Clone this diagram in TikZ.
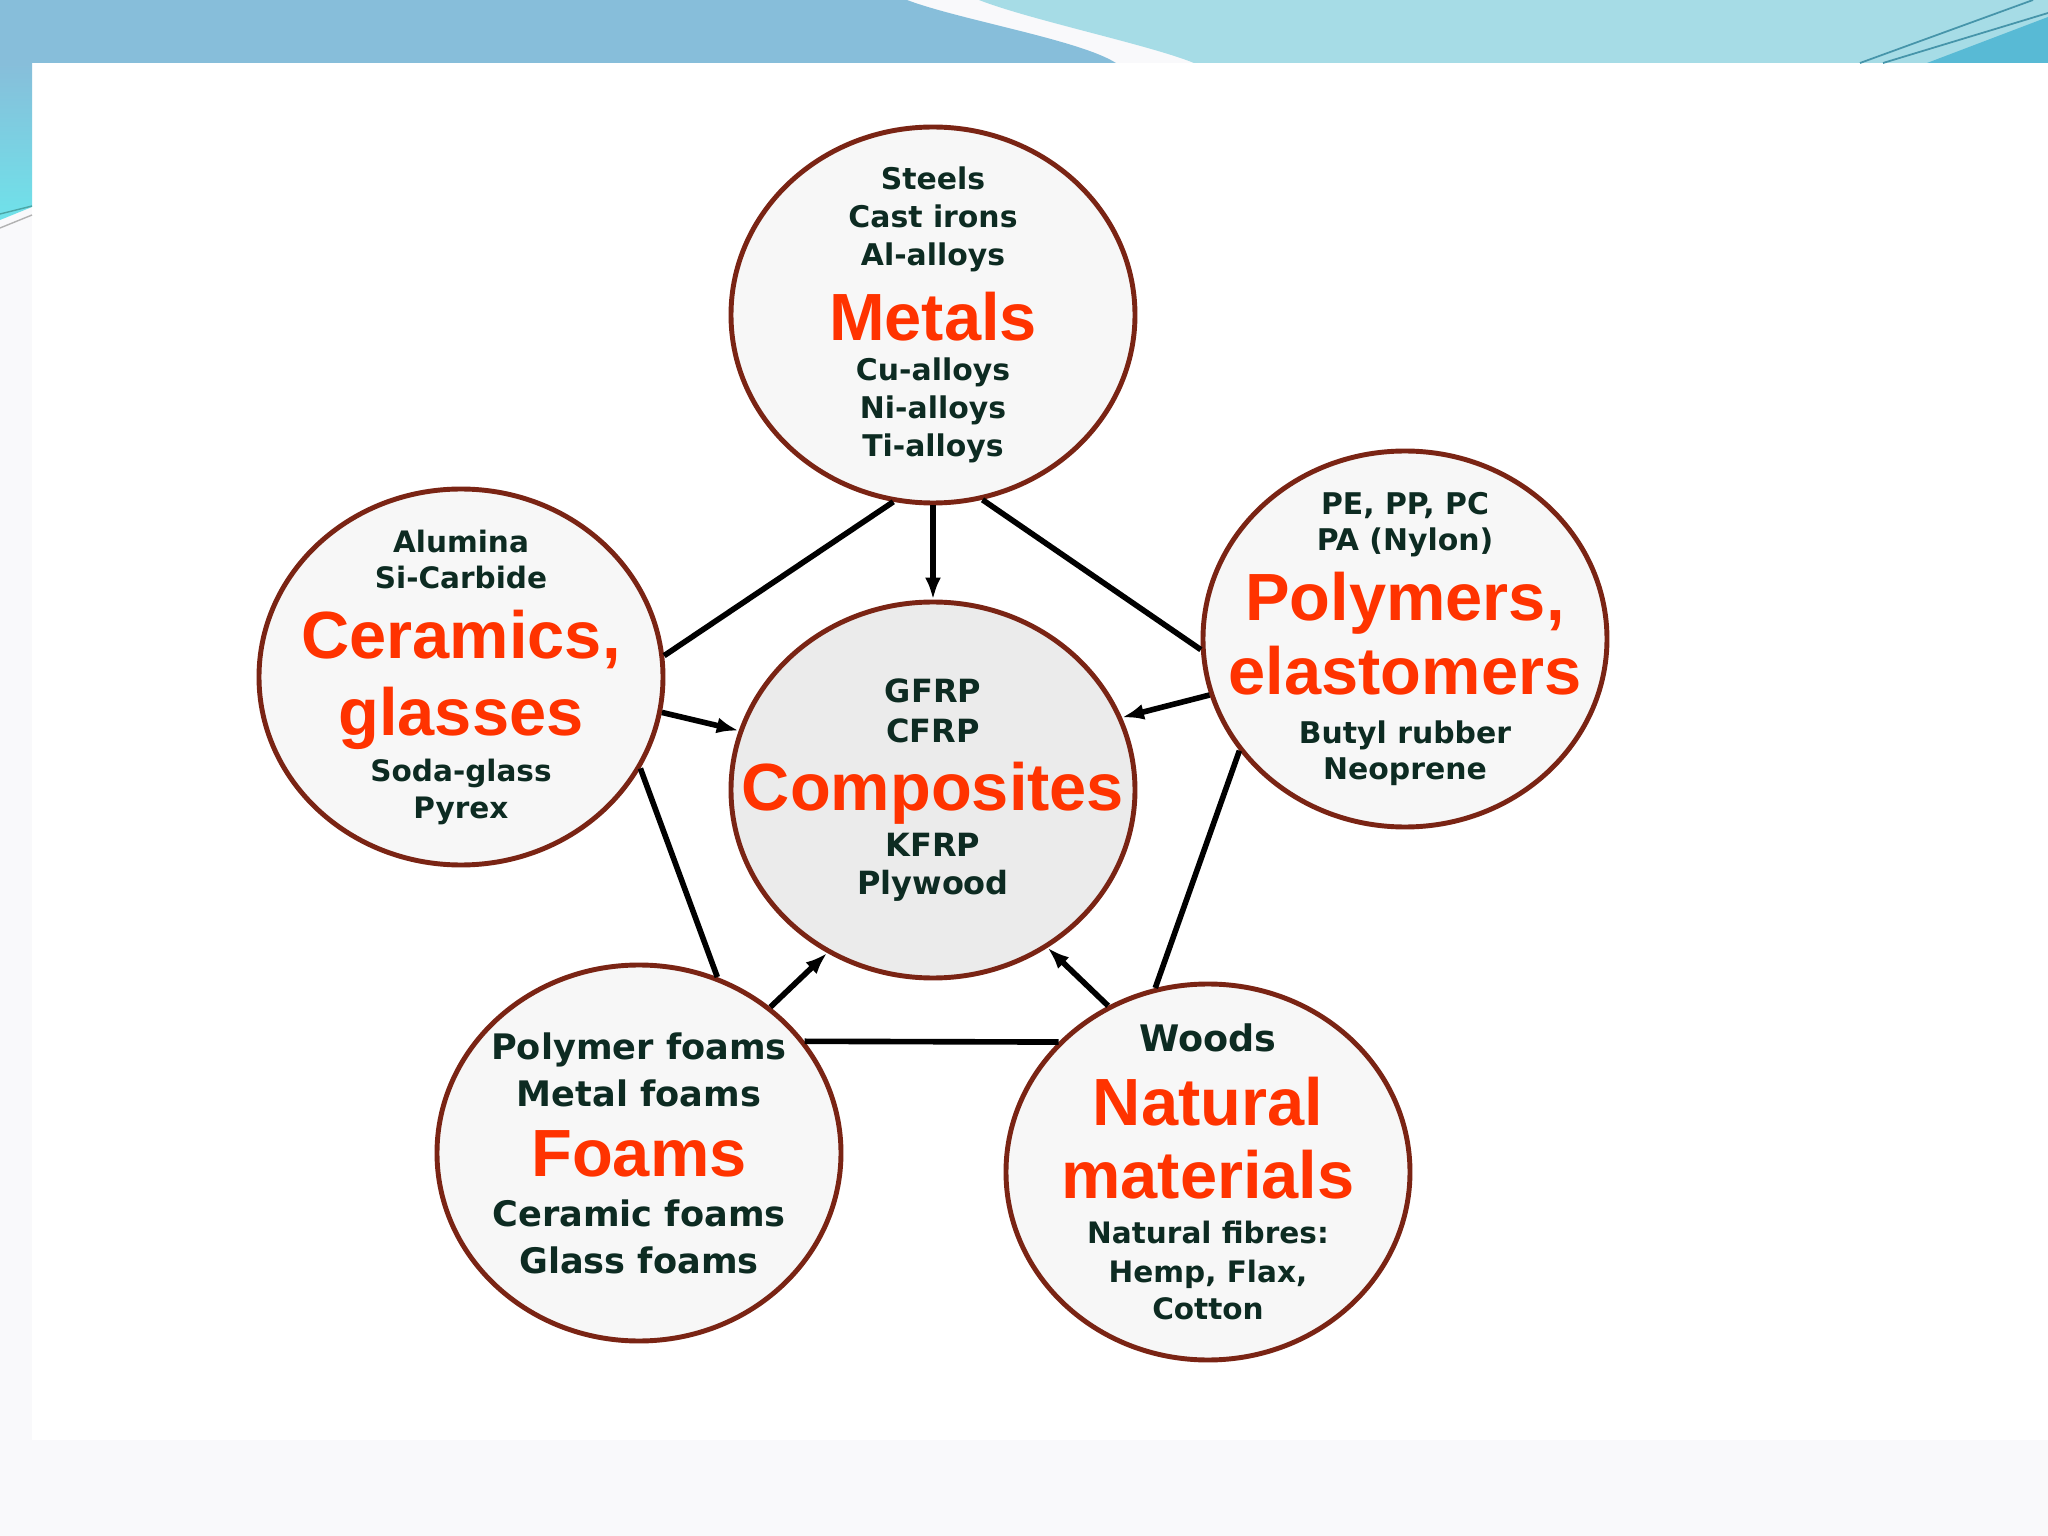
\documentclass[tikz,border=0pt]{standalone}
\usepackage{fontspec}
\usetikzlibrary{shapes.geometric,arrows.meta}
\newfontfamily\itemfont{DejaVu Sans}
\newfontfamily\titlefont{Liberation Sans}
\definecolor{rimbrown}{HTML}{7A2414}
\definecolor{discfill}{HTML}{F7F7F7}
\definecolor{corefill}{HTML}{EBEBEB}
\definecolor{itemgreen}{HTML}{0D2B22}
\definecolor{titlered}{HTML}{FF3300}
\definecolor{bandblue}{HTML}{87BEDA}
\definecolor{bandcyan}{HTML}{A6DCE6}
\definecolor{stripcyan}{HTML}{6FE2EA}
\definecolor{wedgeblue}{HTML}{58BAD5}
\definecolor{paper}{HTML}{F9F9FB}
\newcommand{\mattitle}[1]{{\titlefont\bfseries\fontsize{19}{22}\selectfont\color{titlered}#1}}

\begin{document}
\begin{tikzpicture}[
    matcircle/.style={ellipse,draw=rimbrown,line width=1.4pt,fill=discfill,minimum width=4.04cm,minimum height=3.76cm,inner sep=0pt},
    listfont/.style 2 args={font={\itemfont\bfseries\fontsize{#1}{#2}\selectfont\lineskiplimit=-50pt\relax}},
    every label/.style={align=center,text=itemgreen,inner sep=0pt},
    link/.style={line width=1.6pt},
    feed/.style={line width=1.6pt,-{Latex[length=2.2mm,width=1.6mm]}}]
    \useasboundingbox (0,0) rectangle (20.48,-15.36);

    \fill[paper] (0,0) rectangle (20.48,-15.36);
    \fill[white] (0.32,-0.63) rectangle (20.48,-14.40);
    \shade[top color=bandblue,bottom color=stripcyan] (0,-0.63) -- (0.32,-0.63) -- (0.32,-2.07) -- (0,-2.2) -- cycle;
    \draw[teal!70,line width=0.4pt] (0,-2.14) -- (0.32,-2.06);
    \draw[gray!60,line width=0.4pt] (0,-2.28) -- (0.32,-2.15);
    \fill[bandblue] (0,0) -- (9.07,0) .. controls (9.6,-0.2) and (10.8,-0.4) .. (11.16,-0.63) -- (0,-0.63) -- cycle;
    \fill[bandcyan] (9.79,0) .. controls (10.3,-0.2) and (11.5,-0.45) .. (11.94,-0.63) -- (20.48,-0.63) -- (20.48,0) -- cycle;
    \fill[wedgeblue] (19.27,-0.63) -- (20.48,-0.17) -- (20.48,-0.63) -- cycle;
    \draw[wedgeblue!80!black,line width=0.5pt] (18.60,-0.63) -- (20.33,0);
    \draw[wedgeblue!80!black,line width=0.5pt] (18.83,-0.63) -- (20.48,-0.13);

    \node (metals) at (9.33,-3.15) [matcircle,label={[listfont={8.5}{10.8}]center:{Steels\\Cast irons\\Al-alloys\\[10.4pt]\mattitle{Metals}\\[0.7pt]Cu-alloys\\Ni-alloys\\Ti-alloys}}]{};
    \node (composites) at (9.33,-7.90) [matcircle,fill=corefill,label={[listfont={9.1}{11.5}]center:{GFRP\\CFRP\\[7.8pt]\mattitle{Composites}\\[1.5pt]KFRP\\[-0.7pt]Plywood}}]{};
    \node (ceramics) at (4.61,-6.77) [matcircle,label={[listfont={8.4}{10.4}]center:{Alumina\\Si-Carbide\\[9.6pt]\mattitle{Ceramics,}\\[11.5pt]\mattitle{glasses}\\[2.6pt]Soda-glass\\Pyrex}}]{};
    \node (polymers) at (14.05,-6.39) [matcircle,label={[listfont={8.5}{10.2}]center:{PE, PP, PC\\PA (Nylon)\\[9.8pt]\mattitle{Polymers,}\\[10.6pt]\mattitle{elastomers}\\[3.8pt]Butyl rubber\\Neoprene}}]{};
    \node (foams) at (6.39,-11.53) [matcircle,label={[listfont={10}{13.4}]center:{Polymer foams\\Metal foams\\[6.6pt]\mattitle{Foams}\\[0.7pt]Ceramic foams\\Glass foams}}]{};
    \node (natural) at (12.08,-11.72) [matcircle,label={[listfont={8.4}{10.4}]center:{{\fontsize{10.4}{12}\selectfont Woods}\\[10.4pt]\mattitle{Natural}\\[10.4pt]\mattitle{materials}\\[2.6pt]Natural fibres:\\[0.7pt]Hemp, Flax,\\Cotton}}]{};

    \draw[link] (metals.258) -- (ceramics.6);
    \draw[link] (metals.285) -- (polymers.183);
    \draw[link] (ceramics.333) -- (foams.66);
    \draw[link] (polymers.214) -- (natural.106);
    \draw[link] (foams.34) -- (natural.139);

    \draw[feed] (metals.south) -- (composites.north);
    \draw[feed] (ceramics.350) -- (composites.163);
    \draw[feed] (polymers.196) -- (composites.21);
    \draw[feed] (foams.48) -- (composites.237);
    \draw[feed] (natural.121) -- (composites.306);

  \end{tikzpicture}
\end{document}
